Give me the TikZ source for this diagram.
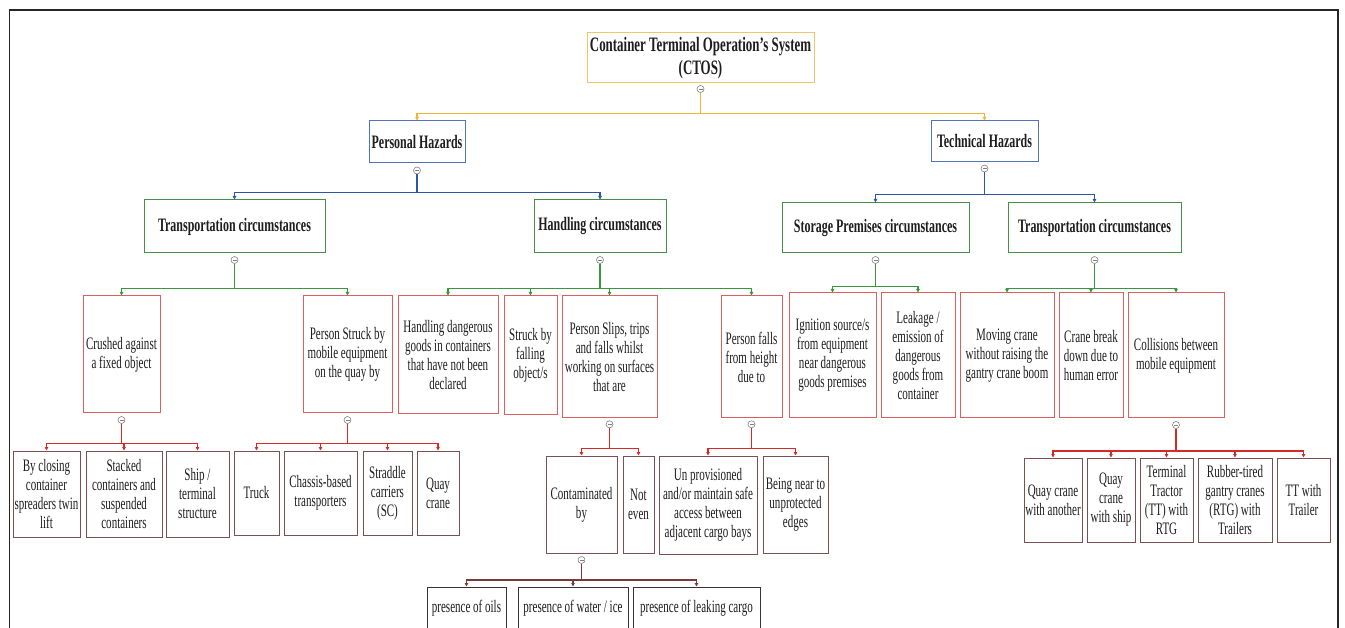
\documentclass[tikz,border=0pt]{standalone}
\usepackage{fontspec}
\setmainfont{Liberation Serif}[FakeStretch=0.63]
\usetikzlibrary{arrows.meta}

\definecolor{rootc}{HTML}{F1C56A}
\definecolor{rootl}{HTML}{F2B432}
\definecolor{bluec}{HTML}{5573B8}
\definecolor{bluel}{HTML}{2E56A6}
\definecolor{greenc}{HTML}{458E45}
\definecolor{greenl}{HTML}{36983A}
\definecolor{redc}{HTML}{DC5E5E}
\definecolor{redl}{HTML}{D42A2A}
\definecolor{brownc}{HTML}{7A5050}
\definecolor{brownl}{HTML}{7A3A3A}
\definecolor{darkc}{HTML}{3A3333}
\definecolor{knobc}{HTML}{808080}
\definecolor{txt}{HTML}{1E1E1E}
\definecolor{framec}{HTML}{262626}

% box from its corners: name, x1, y1, x2, y2, style, text
\newcommand{\tbox}[7]{\node[#6, minimum width={#4pt-#2pt}, minimum height={#5pt-#3pt}] (#1) at ({(#2+#4)/2},{(#3+#5)/2}) {#7};}
% collapse knob: name, x, y
\newcommand{\knob}[3]{\node[knob] (#1) at (#2,#3) {};}
% connector: colour, knob, bus point, child
\newcommand{\branch}[4]{\draw[link,#1] (#2.south) -- (#3) -| (#4.north);}

\begin{document}
\begin{tikzpicture}[x=1pt,y=-1pt,
  base/.style={draw, rectangle, inner sep=1pt, align=center, line width=1pt, text=txt},
  rootbox/.style={base, draw=rootc, font=\fontsize{20.5}{23.5}\selectfont\bfseries},
  hazbox/.style={base, draw=bluec, font=\fontsize{19}{21}\selectfont\bfseries},
  circbox/.style={base, draw=greenc, font=\fontsize{19}{21}\selectfont\bfseries},
  causebox/.style={base, draw=redc, font=\fontsize{17.5}{19}\selectfont},
  detailbox/.style={base, draw=brownc, font=\fontsize{17.5}{19}\selectfont},
  leafbox/.style={base, draw=darkc, font=\fontsize{17.5}{19}\selectfont},
  knob/.style={circle, draw=knobc, fill=white, line width=0.6pt, minimum size=7pt, inner sep=0pt,
    path picture={\draw[knobc, line width=0.7pt] ([xshift=-2pt]path picture bounding box.center) -- ([xshift=2pt]path picture bounding box.center);}},
  link/.style={line width=1.1pt, -{Triangle[length=3.5pt,width=3.5pt]}},
  frame/.style={draw=framec, line width=1.6pt}
]
\useasboundingbox (0,0) rectangle (1345,628);
\clip (0,0) rectangle (1345,628);
\fill[white] (0,0) rectangle (1345,628);
\draw[frame] (9.5,650) -- (9.5,10) -- (1338,10) -- (1338,650);

% ---- top level
\tbox{root}{587}{33}{814}{83}{rootbox}{Container Terminal Operation{\char"0027}s System\\(CTOS)}

% ---- hazard groups
\tbox{ph}{369}{121}{465}{163}{hazbox}{Personal Hazards}
\tbox{th}{931}{121}{1038}{162}{hazbox}{Technical Hazards}

% ---- circumstances
\tbox{tcp}{144}{200}{325}{253}{circbox}{Transportation circumstances}
\tbox{hc}{534}{200}{666}{253}{circbox}{Handling circumstances}
\tbox{sp}{782}{203}{969}{252.5}{circbox}{Storage Premises circumstances}
\tbox{tct}{1008}{203}{1181}{252.5}{circbox}{Transportation circumstances}

% ---- causes
\tbox{crushed}{83}{296}{160}{413}{causebox}{Crushed against\\a fixed object}
\tbox{struck}{303}{296}{392}{413}{causebox}{Person Struck by\\mobile equipment\\on the quay by}
\tbox{hdg}{398}{296}{498}{414}{causebox}{Handling dangerous\\goods in containers\\that have not been\\declared}
\tbox{sbf}{504}{296}{557}{415}{causebox}{Struck by\\falling\\object/s}
\tbox{slips}{562}{296}{657}{418}{causebox}{Person Slips, trips\\and falls whilst\\working on surfaces\\that are}
\tbox{falls}{721}{296}{782}{418}{causebox}{Person falls\\from height\\due to}
\tbox{ign}{789}{293}{876}{418}{causebox}{Ignition source/s\\from equipment\\near dangerous\\goods premises}
\tbox{leak}{881}{293}{955}{418}{causebox}{Leakage /\\emission of\\dangerous\\goods from\\container}
\tbox{moving}{960}{293}{1054}{418}{causebox}{Moving crane\\without raising the\\gantry crane boom}
\tbox{cbreak}{1059}{293}{1123}{418}{causebox}{Crane break\\down due to\\human error}
\tbox{coll}{1128}{293}{1224}{418}{causebox}{Collisions between\\mobile equipment}

% ---- details
\tbox{closing}{13}{451}{80}{537}{detailbox}{By closing\\container\\spreaders twin\\lift}
\tbox{stacked}{86}{451}{162}{537}{detailbox}{Stacked\\containers and\\suspended\\containers}
\tbox{ship}{166}{451}{229}{537}{detailbox}{Ship /\\terminal\\structure}
\tbox{truck}{234}{451}{279}{535}{detailbox}{Truck}
\tbox{chassis}{284}{451}{357}{535}{detailbox}{Chassis-based\\transporters}
\tbox{straddle}{363}{451}{412}{535}{detailbox}{Straddle\\carriers\\(SC)}
\tbox{quay}{417}{451}{459}{535}{detailbox}{Quay\\crane}
\tbox{contam}{546}{456}{617}{553}{detailbox}{Contaminated\\by}
\tbox{noteven}{623}{456}{654}{553}{detailbox}{Not\\even}
\tbox{unprov}{659}{456}{757}{554}{detailbox}{Un provisioned\\and/or maintain safe\\access between\\adjacent cargo bays}
\tbox{near}{763}{456}{828}{553}{detailbox}{Being near to\\unprotected\\edges}
\tbox{qca}{1024}{458}{1082}{542}{detailbox}{Quay crane\\with another}
\tbox{qcs}{1087}{458}{1135}{542}{detailbox}{Quay\\crane\\with ship}
\tbox{ttrtg}{1140}{458}{1193}{542}{detailbox}{Terminal\\Tractor\\(TT) with\\RTG}
\tbox{rtg}{1198}{458}{1272}{542}{detailbox}{Rubber-tired\\gantry cranes\\(RTG) with\\Trailers}
\tbox{ttt}{1277}{458}{1330}{542}{detailbox}{TT with\\Trailer}

% ---- contamination sources
\tbox{oils}{427}{587}{506}{630}{leafbox}{presence of oils}
\tbox{water}{518}{587}{628}{630}{leafbox}{presence of water / ice}
\tbox{cargo}{633}{587}{760}{630}{leafbox}{presence of leaking cargo}

% ---- collapse knobs under each parent
\knob{k-root}{700.5}{89}
\knob{k-ph}{417}{170.5}
\knob{k-th}{984.5}{168.5}
\knob{k-tcp}{234.5}{260}
\knob{k-hc}{600}{260}
\knob{k-sp}{875.5}{260}
\knob{k-tct}{1094.5}{260}
\knob{k-crushed}{121.5}{420}
\knob{k-struck}{347.5}{420}
\knob{k-slips}{609.5}{424.3}
\knob{k-falls}{751.5}{424.3}
\knob{k-coll}{1176}{425}
\knob{k-contam}{581.5}{560}

% ---- bus points below each parent
\coordinate (b-root) at (700.5,113.3);
\coordinate (b-ph) at (417,192.5);
\coordinate (b-th) at (984.5,194.7);
\coordinate (b-tcp) at (234.5,288.3);
\coordinate (b-hc) at (600,288.3);
\coordinate (b-sp) at (875.5,286.5);
\coordinate (b-tct) at (1094.5,288.5);
\coordinate (b-crushed) at (121.5,443.3);
\coordinate (b-struck) at (347.5,443.3);
\coordinate (b-slips) at (609.5,448.3);
\coordinate (b-falls) at (751.5,448.3);
\coordinate (b-coll) at (1176,451);
\coordinate (b-contam) at (581.5,580);

% ---- connectors
\branch{rootl}{k-root}{b-root}{ph}
\branch{rootl}{k-root}{b-root}{th}
\branch{bluel}{k-ph}{b-ph}{tcp}
\branch{bluel}{k-ph}{b-ph}{hc}
\branch{bluel}{k-th}{b-th}{sp}
\branch{bluel}{k-th}{b-th}{tct}
\branch{greenl}{k-tcp}{b-tcp}{crushed}
\branch{greenl}{k-tcp}{b-tcp}{struck}
\branch{greenl}{k-hc}{b-hc}{hdg}
\branch{greenl}{k-hc}{b-hc}{sbf}
\branch{greenl}{k-hc}{b-hc}{slips}
\branch{greenl}{k-hc}{b-hc}{falls}
\branch{greenl}{k-sp}{b-sp}{ign}
\branch{greenl}{k-sp}{b-sp}{leak}
\branch{greenl}{k-tct}{b-tct}{moving}
\branch{greenl}{k-tct}{b-tct}{cbreak}
\branch{greenl}{k-tct}{b-tct}{coll}
\branch{redl}{k-crushed}{b-crushed}{closing}
\branch{redl}{k-crushed}{b-crushed}{stacked}
\branch{redl}{k-crushed}{b-crushed}{ship}
\branch{redl}{k-struck}{b-struck}{truck}
\branch{redl}{k-struck}{b-struck}{chassis}
\branch{redl}{k-struck}{b-struck}{straddle}
\branch{redl}{k-struck}{b-struck}{quay}
\branch{redl}{k-slips}{b-slips}{contam}
\branch{redl}{k-slips}{b-slips}{noteven}
\branch{redl}{k-falls}{b-falls}{unprov}
\branch{redl}{k-falls}{b-falls}{near}
\branch{redl}{k-coll}{b-coll}{qca}
\branch{redl}{k-coll}{b-coll}{qcs}
\branch{redl}{k-coll}{b-coll}{ttrtg}
\branch{redl}{k-coll}{b-coll}{rtg}
\branch{redl}{k-coll}{b-coll}{ttt}
\branch{brownl}{k-contam}{b-contam}{oils}
\branch{brownl}{k-contam}{b-contam}{water}
\branch{brownl}{k-contam}{b-contam}{cargo}
\end{tikzpicture}
\end{document}
